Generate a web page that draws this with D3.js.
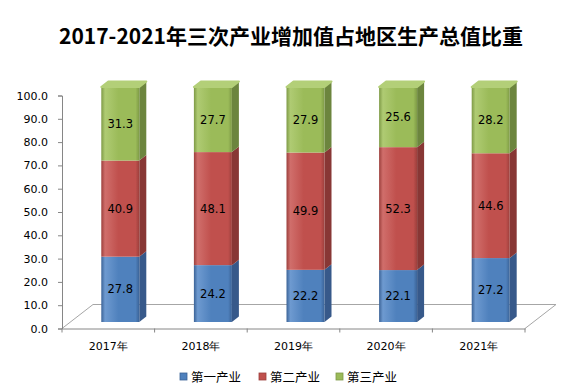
<!DOCTYPE html>
<html><head><meta charset="utf-8">
<script src="https://cdn.jsdelivr.net/npm/d3@7"></script>
<style>html,body{margin:0;padding:0;background:#fff;}</style>
</head><body>
<svg id="chart" width="575" height="392"></svg>
<script>
const categories = ["2017年","2018年","2019年","2020年","2021年"];
const seriesNames = ["第一产业","第二产业","第三产业"];
const primary   = [27.8, 24.2, 22.2, 22.1, 27.2];
const secondary = [40.9, 48.1, 49.9, 52.3, 44.6];
const tertiary  = [31.3, 27.7, 27.9, 25.6, 28.2];
const yTicks = [0,10,20,30,40,50,60,70,80,90,100];
const title = "2017-2021年三次产业增加值占地区生产总值比重";

const colors = [
  {base:"#4F81BD", light:"#6E9AD0", dark:"#3B6397", side:"#37598A", top:"#6F99CC"},
  {base:"#C0504D", light:"#D06E6B", dark:"#9C3F3C", side:"#883735", top:"#D27672"},
  {base:"#9BBB59", light:"#AFCB73", dark:"#7E9A46", side:"#6C853E", top:"#B3CF78"}
];

const svg = d3.select("#chart");

svg.append("text").attr("x", 291).attr("y", 44).attr("text-anchor","middle")
  .attr("font-family","'Noto Sans CJK SC', sans-serif").attr("font-weight","bold")
  .attr("font-size", 21).attr("fill","#000").text(title);

const left = 62, right = 525, bottom = 328.5, topY = 95.5;
const floorDx = 31, floorDy = -24;
const x = d3.scaleBand().domain(categories).range([left, right]).padding(0);
const y = d3.scaleLinear().domain([0,100]).range([bottom, topY]);
const yBar = d3.scaleLinear().domain([0,100]).range([322, 87]);

const defs = svg.append("defs");
colors.forEach((c,i)=>{
  const g = defs.append("linearGradient").attr("id","g"+i).attr("x1","0").attr("x2","1").attr("y1","0").attr("y2","0");
  g.append("stop").attr("offset","0").attr("stop-color",c.dark);
  g.append("stop").attr("offset","0.1").attr("stop-color",c.light);
  g.append("stop").attr("offset","0.45").attr("stop-color",c.base);
  g.append("stop").attr("offset","0.9").attr("stop-color",c.base);
  g.append("stop").attr("offset","1").attr("stop-color",c.dark);
});

svg.append("path")
  .attr("d", `M${left},${bottom} L${left+floorDx},${bottom+floorDy} L${right+floorDx},${bottom+floorDy} L${right},${bottom}`)
  .attr("fill","none").attr("stroke","#A6A6A6").attr("stroke-width",1);

const yAxis = svg.append("g").attr("transform",`translate(${left},0)`)
  .call(d3.axisLeft(y).tickValues(yTicks).tickFormat(d3.format(".1f")).tickSize(4).tickPadding(10));
yAxis.select(".domain").attr("stroke","#868686");
yAxis.selectAll(".tick line").attr("stroke","#868686");
yAxis.selectAll("text").attr("font-family","'DejaVu Sans', Verdana, sans-serif").attr("font-size",11).attr("fill","#000");

const xAxis = svg.append("g").attr("transform",`translate(0,${bottom})`)
  .call(d3.axisBottom(x).tickSize(0).tickPadding(14));
xAxis.select(".domain").attr("stroke","#868686");
xAxis.selectAll("text").attr("font-family","'DejaVu Sans', Verdana, sans-serif").attr("font-size",11).attr("fill","#000");
const bounds = categories.map(c=>x(c)).concat([x(categories[categories.length-1])+x.step()]);
svg.append("g").selectAll("line").data(bounds).join("line")
  .attr("x1",d=>d).attr("x2",d=>d).attr("y1",bottom).attr("y2",bottom+4)
  .attr("stroke","#868686");

const series = [primary, secondary, tertiary];
const barW = 38, bdx = 7, bdy = -5.5, shift = 12;
categories.forEach((cat, ci)=>{
  const cx = x(cat) + x.step()/2 + shift;
  const x0 = cx - barW/2, x1 = cx + barW/2;
  let cum = 0;
  const g = svg.append("g");
  series.forEach((vals, si)=>{
    const v = vals[ci];
    const yb = yBar(cum), yt = yBar(cum+v);
    const c = colors[si];
    g.append("path")
      .attr("d",`M${x1},${yb} L${x1+bdx},${yb+bdy} L${x1+bdx},${yt+bdy} L${x1},${yt} Z`)
      .attr("fill",c.side);
    g.append("rect").attr("x",x0).attr("y",yt).attr("width",barW).attr("height",yb-yt)
      .attr("fill",`url(#g${si})`);
    if (si === series.length-1) {
      g.append("path")
        .attr("d",`M${x0},${yt} L${x0+bdx},${yt+bdy} L${x1+bdx},${yt+bdy} L${x1},${yt} Z`)
        .attr("fill",c.top).attr("stroke",c.top).attr("stroke-linejoin","round").attr("stroke-width",2);
    }
    g.append("text").attr("x",cx).attr("y",(yb+yt)/2).attr("dy","0.35em")
      .attr("text-anchor","middle").attr("font-family","'DejaVu Sans', Verdana, sans-serif")
      .attr("font-size",11.5).attr("fill","#000").text(v.toFixed(1));
    cum += v;
  });
});

const legendX = [180, 259, 336];
const lg = svg.append("g");
seriesNames.forEach((n,i)=>{
  const c = colors[i];
  lg.append("rect").attr("x",legendX[i]).attr("y",373).attr("width",7).attr("height",7)
    .attr("fill",c.base).attr("stroke",c.dark).attr("stroke-width",0.8);
  lg.append("text").attr("x",legendX[i]+11).attr("y",377).attr("dy","0.38em")
    .attr("font-family","'Noto Sans CJK SC', sans-serif").attr("font-size",12.5).attr("fill","#000").text(n);
});
</script>
</body></html>
